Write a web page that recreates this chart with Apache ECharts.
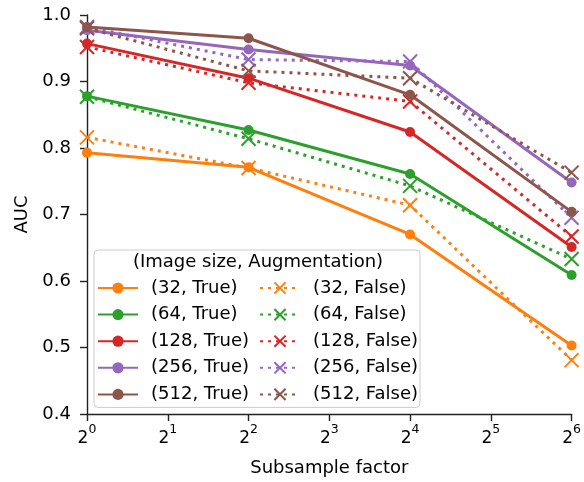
<!DOCTYPE html>
<html>
<head>
<meta charset="utf-8">
<script src="https://cdn.jsdelivr.net/npm/echarts@6/dist/echarts.min.js"></script>
<style>
  html, body { margin: 0; padding: 0; background: #fff; }
  #auc { width: 584px; height: 482px; }
</style>
</head>
<body>
<div id="auc"></div>
<script>
// subsample factors (log2 x axis)
const subsample = [1, 4, 16, 64];

// AUC per (image size, augmentation)
const auc32True = [0.793, 0.771, 0.670, 0.503];
const auc32False = [0.816, 0.770, 0.714, 0.481];
const auc64True = [0.878, 0.827, 0.761, 0.609];
const auc64False = [0.877, 0.814, 0.743, 0.633];
const auc128True = [0.957, 0.905, 0.824, 0.651];
const auc128False = [0.952, 0.898, 0.870, 0.667];
const auc256True = [0.977, 0.948, 0.924, 0.748];
const auc256False = [0.982, 0.933, 0.930, 0.695];
const auc512True = [0.982, 0.965, 0.880, 0.704];
const auc512False = [0.980, 0.916, 0.905, 0.763];

const imageSizes = [32, 64, 128, 256, 512];
const colors = ['#ff7f0e', '#2ca02c', '#d62728', '#9467bd', '#8c564b'];
const trueRuns = [auc32True, auc64True, auc128True, auc256True, auc512True];
const falseRuns = [auc32False, auc64False, auc128False, auc256False, auc512False];

const font = 'DejaVu Sans';
const crossPath = 'path://M0,0L10,10M10,0L0,10';

const series = [];
const legendNames = [];
imageSizes.forEach((size, i) => {
    const c = colors[i];
    const nameT = `(${size}, True)`;
    const nameF = `(${size}, False)`;
    legendNames.push(nameT, nameF);
    series.push({
        name: nameT,
        type: 'line',
        data: subsample.map((x, k) => [x, trueRuns[i][k]]),
        symbol: 'circle',
        symbolSize: 10,
        lineStyle: { color: c, width: 3 },
        itemStyle: { color: c },
        animation: false
    });
    series.push({
        name: nameF,
        type: 'line',
        data: subsample.map((x, k) => [x, falseRuns[i][k]]),
        symbol: crossPath,
        symbolSize: 14,
        lineStyle: { color: c, width: 3, type: [3, 5] },
        itemStyle: { color: c, borderColor: c, borderWidth: 2 },
        animation: false
    });
});

const myChart = echarts.init(document.getElementById('auc'));
myChart.setOption({
    animation: false,
    textStyle: { fontFamily: font },
    grid: { left: 87, right: 8, top: 15, bottom: 65, containLabel: false },
    xAxis: {
        type: 'log',
        logBase: 2,
        min: 1,
        max: 64,
        splitNumber: 6,
        name: 'Subsample factor',
        nameLocation: 'middle',
        nameGap: 45,
        nameTextStyle: { fontSize: 18, color: '#000', fontFamily: font },
        axisLine: { lineStyle: { color: '#222', width: 1.4 } },
        axisTick: { show: true, length: 7, lineStyle: { color: '#222', width: 1.4 } },
        splitLine: { show: false },
        axisLabel: {
            margin: 9,
            color: '#000',
            formatter: v => '{b|2}{s|' + Math.round(Math.log2(v)) + '}',
            rich: {
                b: { fontSize: 17, fontFamily: font, color: '#000', lineHeight: 24, verticalAlign: 'bottom' },
                s: { fontSize: 12.5, fontFamily: font, color: '#000', lineHeight: 12, verticalAlign: 'top' }
            }
        }
    },
    yAxis: {
        type: 'value',
        min: 0.4,
        max: 1.0,
        interval: 0.1,
        name: 'AUC',
        nameLocation: 'middle',
        nameGap: 55,
        nameTextStyle: { fontSize: 18, color: '#000', fontFamily: font },
        axisLine: { show: true, lineStyle: { color: '#222', width: 1.4 } },
        axisTick: { show: true, length: 7, lineStyle: { color: '#222', width: 1.4 } },
        splitLine: { show: false },
        axisLabel: {
            margin: 16,
            fontSize: 18,
            color: '#000',
            fontFamily: font,
            formatter: v => v.toFixed(1)
        }
    },
    legend: {
        data: legendNames,
        orient: 'horizontal',
        left: 94,
        top: 250,
        width: 330,
        padding: [28, 2, 3, 3],
        itemGap: 6.6,
        itemWidth: 40,
        itemHeight: 14,
        backgroundColor: 'rgba(255,255,255,0.85)',
        borderColor: '#cccccc',
        borderWidth: 1,
        borderRadius: 4,
        textStyle: {
            fontSize: 18,
            fontFamily: font,
            color: '#000',
            width: 101.4,
            overflow: 'none',
            lineHeight: 20,
            padding: [0, 0, 0, 8]
        }
    },
    graphic: [{
        type: 'text',
        z: 100,
        x: 258,
        y: 262,
        style: {
            text: '(Image size, Augmentation)',
            font: '18px "DejaVu Sans"',
            fill: '#000',
            align: 'center',
            verticalAlign: 'middle'
        }
    }],
    series: series
});
</script>
</body>
</html>
